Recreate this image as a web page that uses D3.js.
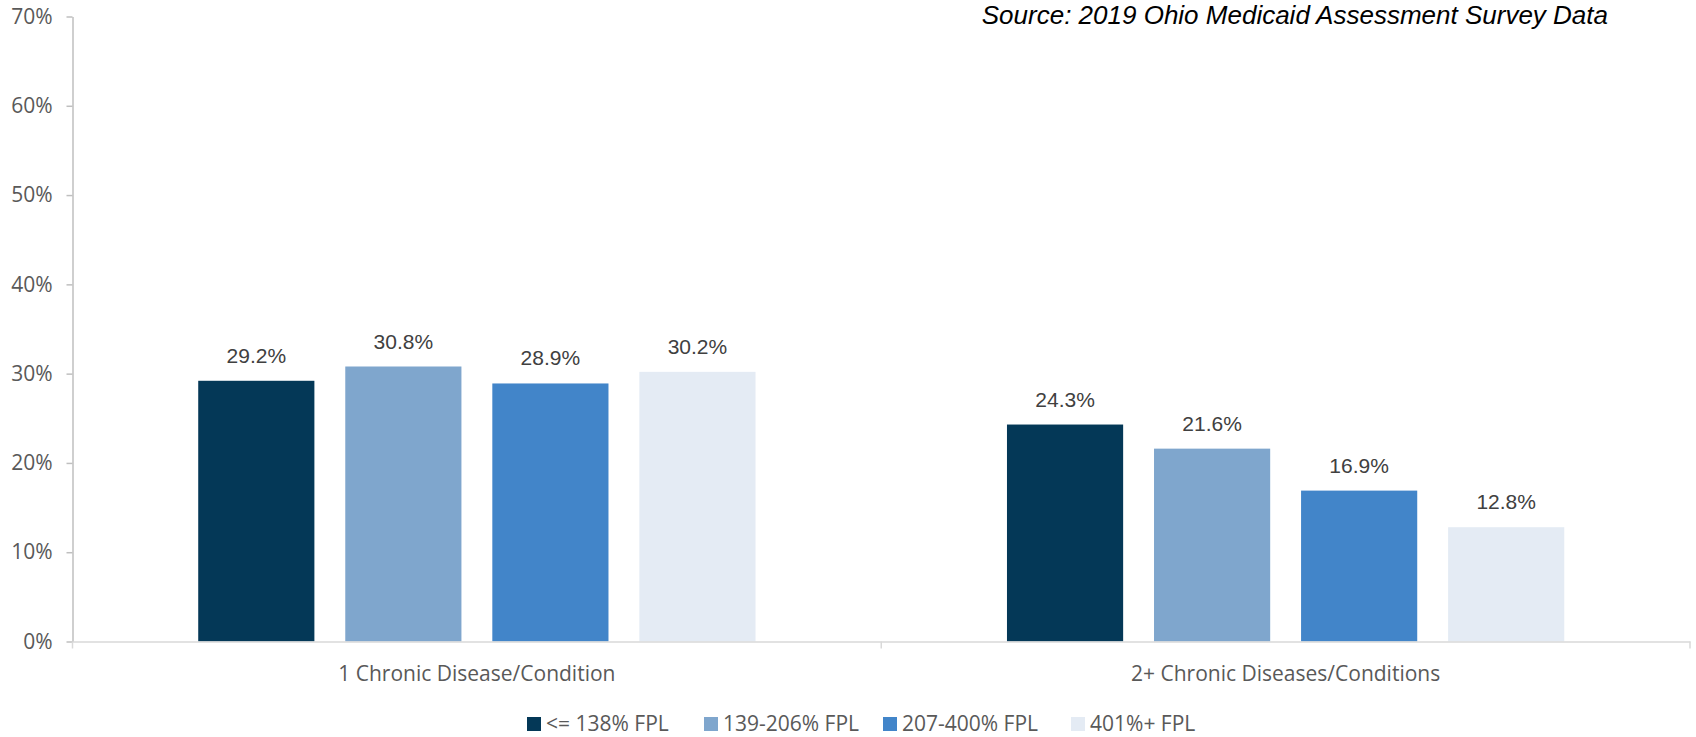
<!DOCTYPE html>
<html>
<head>
<meta charset="utf-8">
<script src="https://cdn.jsdelivr.net/npm/d3@7"></script>
<style>
  html, body { margin: 0; padding: 0; background: #ffffff; }
  svg { display: block; }
</style>
</head>
<body>
<svg id="chart" width="1696" height="737"></svg>
<script>
const categories = ["1 Chronic Disease/Condition", "2+ Chronic Diseases/Conditions"];
const seriesNames = ["<= 138% FPL", "139-206% FPL", "207-400% FPL", "401%+ FPL"];
const seriesColors = ["#043857", "#7fa6cd", "#4285c9", "#e4ebf4"];
const le138 = [29.2, 24.3];
const fpl139_206 = [30.8, 21.6];
const fpl207_400 = [28.9, 16.9];
const fpl401 = [30.2, 12.8];
const yTicks = [0, 10, 20, 30, 40, 50, 60, 70];
const sourceText = "Source: 2019 Ohio Medicaid Assessment Survey Data";

const seriesValues = [le138, fpl139_206, fpl207_400, fpl401];

const svg = d3.select("#chart");
const plotLeft = 72.5, plotRight = 1690, plotTop = 16.5, plotBottom = 641.5;

const x0 = d3.scaleBand().domain(categories).range([plotLeft, plotRight]).paddingInner(0).paddingOuter(0);
const x1 = d3.scaleBand().domain(seriesNames).range([0, x0.bandwidth()]).paddingInner(0.21).paddingOuter(0.855);
const y = d3.scaleLinear().domain([0, 70]).range([plotBottom, plotTop]);

const tickFont = "'Open Sans', sans-serif";
const narrowFont = "'Liberation Sans Narrow', 'Liberation Sans', sans-serif";

// y axis
const yAxis = d3.axisLeft(y).tickValues(yTicks).tickFormat(d => d + "%").tickSizeInner(6).tickSizeOuter(0).tickPadding(14);
const gy = svg.append("g").attr("transform", `translate(${plotLeft},0)`).call(yAxis);
gy.select(".domain").attr("stroke", "#bfbfbf").attr("stroke-width", 1.5);
gy.selectAll(".tick line").attr("stroke", "#bfbfbf").attr("stroke-width", 1.5);
gy.selectAll(".tick text").attr("fill", "#595959").style("font-family", tickFont).style("font-size", "21px");

// bars
const groups = svg.append("g").selectAll("g").data(categories).join("g")
  .attr("transform", d => `translate(${x0(d)},0)`);
groups.selectAll("rect").data((c, ci) => seriesNames.map((s, si) => ({s, si, v: seriesValues[si][ci]})))
  .join("rect")
  .attr("x", d => x1(d.s))
  .attr("width", x1.bandwidth())
  .attr("y", d => y(d.v))
  .attr("height", d => y(0) - y(d.v))
  .attr("fill", d => seriesColors[d.si]);
groups.selectAll("text.val").data((c, ci) => seriesNames.map((s, si) => ({s, si, v: seriesValues[si][ci]})))
  .join("text").attr("class", "val")
  .attr("x", d => x1(d.s) + x1.bandwidth() / 2)
  .attr("y", d => y(d.v) - 18)
  .attr("text-anchor", "middle")
  .attr("fill", "#404040")
  .style("font-family", narrowFont).style("font-size", "21px")
  .text(d => d.v.toFixed(1) + "%");

// x axis
const xAxis = d3.axisBottom(x0).tickSize(0).tickPadding(0);
const gx = svg.append("g").attr("transform", `translate(0,${plotBottom})`).call(xAxis);
gx.select(".domain").attr("stroke", "#d9d9d9").attr("stroke-width", 1.5);
gx.selectAll(".tick text").attr("fill", "#595959").attr("dy", 0).attr("y", 39)
  .style("font-family", tickFont).style("font-size", "21px");
// category separator ticks
const seps = [plotLeft].concat(categories.map(c => x0(c) + x0.bandwidth()));
gx.selectAll("line.sep").data(seps).join("line").attr("class", "sep")
  .attr("x1", d => d).attr("x2", d => d).attr("y1", 0).attr("y2", 7)
  .attr("stroke", "#d9d9d9").attr("stroke-width", 1.5);

// legend
const legendX = [527, 704, 883, 1071];
const lg = svg.append("g").selectAll("g").data(seriesNames).join("g")
  .attr("transform", (d, i) => `translate(${legendX[i]},717)`);
lg.append("rect").attr("width", 14).attr("height", 14).attr("fill", (d, i) => seriesColors[i]);
lg.append("text").attr("x", 19).attr("y", 14).attr("fill", "#595959")
  .style("font-family", tickFont).style("font-size", "21px").text(d => d);

// source
svg.append("text").attr("x", 1608).attr("y", 24).attr("text-anchor", "end")
  .attr("fill", "#000000").style("font-family", narrowFont).style("font-style", "italic").style("font-size", "26px")
  .text(sourceText);
</script>
</body>
</html>
